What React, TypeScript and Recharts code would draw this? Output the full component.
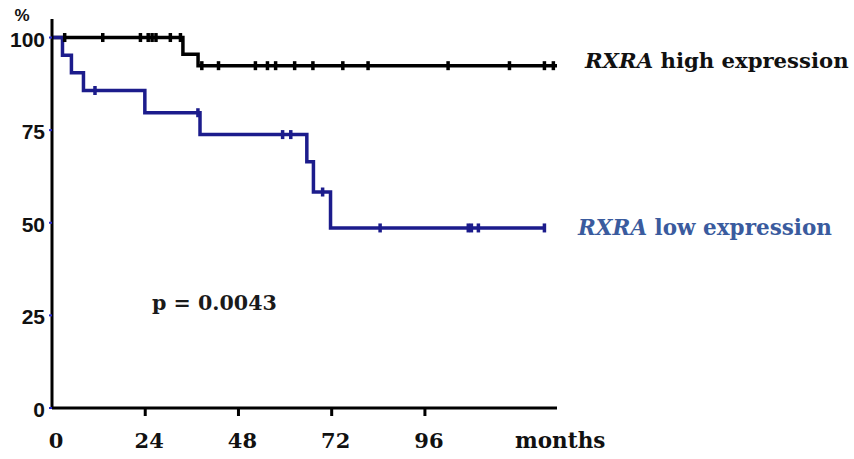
import React from 'react';
import { ComposedChart, Line, Scatter, XAxis, YAxis } from 'recharts';

// Kaplan-Meier steps (months, % surviving)
const HIGH_TIMES = [0, 33.7, 37.6];
const HIGH_SURV = [100, 95.5, 92.4];
const HIGH_END = 130.3;
const HIGH_CENSOR = [3.2, 13, 22.7, 24.7, 25.7, 26.7, 30.4, 33, 38.5, 42.8, 52.3, 55.4, 57.5, 62.4, 67.1, 74.8, 81.3, 101.9, 117.7, 126.7, 129];

const LOW_TIMES = [0, 2.7, 5, 8.1, 23.9, 38.1, 65.6, 67.3, 71.7];
const LOW_SURV = [100, 95.2, 90.5, 85.7, 79.7, 73.8, 66.5, 58.3, 48.6];
const LOW_END = 126.7;
const LOW_CENSOR = [11, 37.5, 59.3, 61.4, 69.6, 84.4, 107.1, 107.9, 109.7, 126.7];

const X_TICKS = [0, 24, 48, 72, 96];
const Y_TICKS = [0, 25, 50, 75, 100];

const stepCurve = (times: number[], surv: number[], end: number) =>
  [...times.map((t, i) => ({ t, s: surv[i] })), { t: end, s: surv[surv.length - 1] }];

const valueAt = (times: number[], surv: number[], t: number) => {
  let v = surv[0];
  times.forEach((tt, i) => { if (tt <= t) v = surv[i]; });
  return v;
};

const censorPoints = (times: number[], surv: number[], cens: number[]) =>
  cens.map((t) => ({ t, s: valueAt(times, surv, t) }));

const highCurve = stepCurve(HIGH_TIMES, HIGH_SURV, HIGH_END);
const lowCurve = stepCurve(LOW_TIMES, LOW_SURV, LOW_END);
const highMarks = censorPoints(HIGH_TIMES, HIGH_SURV, HIGH_CENSOR);
const lowMarks = censorPoints(LOW_TIMES, LOW_SURV, LOW_CENSOR);

const BLACK = '#000000';
const NAVY = '#1c1c8c';
const SERIF = '"DejaVu Serif", serif';
const SANS = '"Liberation Sans", Arial, sans-serif';

const censorShape = (color: string) => (props: any) => (
  <rect x={props.cx - 1.5} y={props.cy - 4.5} width={3.5} height={9} fill={color} />
);

const XTick = (props: any) => {
  const { x, y, payload } = props;
  return (
    <g>
      {payload.value !== 0 && <rect x={x - 1.5} y={y} width={3} height={8} fill={BLACK} />}
      <text x={x + 4} y={y + 40} textAnchor="middle" fontFamily={SERIF} fontWeight="bold" fontSize={21} fill="#111">
        {payload.value}
      </text>
    </g>
  );
};

const YTick = (props: any) => {
  const { x, y, payload } = props;
  return (
    <g>
      <rect x={x - 3} y={y - 1} width={3} height={2} fill="#2a2ad0" />
      <text x={x - 7} y={y + 9} textAnchor="end" fontFamily={SANS} fontWeight="bold" fontSize={21} fill="#111">
        {payload.value}
      </text>
    </g>
  );
};

const App: React.FC = () => {
  return (
    <div style={{ position: 'absolute', left: 0, top: 0, width: 854, height: 459, background: '#fff' }}>
      <ComposedChart width={854} height={459} margin={{ top: 19, right: 297, bottom: 0, left: 0 }}>
        <XAxis
          dataKey="t"
          type="number"
          domain={[0, 130]}
          ticks={X_TICKS}
          height={51}
          tickSize={0}
          tickMargin={0}
          axisLine={{ stroke: BLACK, strokeWidth: 3 }}
          tickLine={false}
          tick={<XTick />}
          allowDataOverflow
        />
        <YAxis
          type="number"
          domain={[0, 105]}
          ticks={Y_TICKS}
          width={52}
          tickSize={0}
          tickMargin={0}
          axisLine={{ stroke: BLACK, strokeWidth: 3 }}
          tickLine={false}
          tick={<YTick />}
          allowDataOverflow
        />
        <Line data={highCurve} dataKey="s" type="stepAfter" stroke={BLACK} strokeWidth={3.5} dot={false} isAnimationActive={false} />
        <Line data={lowCurve} dataKey="s" type="stepAfter" stroke={NAVY} strokeWidth={3.5} dot={false} isAnimationActive={false} />
        <Scatter data={highMarks} dataKey="s" shape={censorShape(BLACK)} isAnimationActive={false} />
        <Scatter data={lowMarks} dataKey="s" shape={censorShape(NAVY)} isAnimationActive={false} />
      </ComposedChart>
      <svg width={854} height={459} style={{ position: 'absolute', left: 0, top: 0, pointerEvents: 'none' }}>
        <text x={22} y={21} textAnchor="middle" fontFamily={SANS} fontWeight="bold" fontSize={17} fill="#111">%</text>
        <text x={585} y={68} fontFamily={SERIF} fontWeight="bold" fontSize={21.2} fill="#111">
          <tspan fontStyle="italic">RXRA</tspan> high expression
        </text>
        <text x={578} y={235} fontFamily={SERIF} fontWeight="bold" fontSize={21.5} fill="#3a5b9e">
          <tspan fontStyle="italic">RXRA</tspan> low expression
        </text>
        <text x={152} y={310} fontFamily={SERIF} fontWeight="bold" fontSize={20.6} fill="#1a1a1a">p = 0.0043</text>
        <text x={515} y={448} fontFamily={SERIF} fontWeight="bold" fontSize={21.5} fill="#111">months</text>
      </svg>
    </div>
  );
};

export default App;
